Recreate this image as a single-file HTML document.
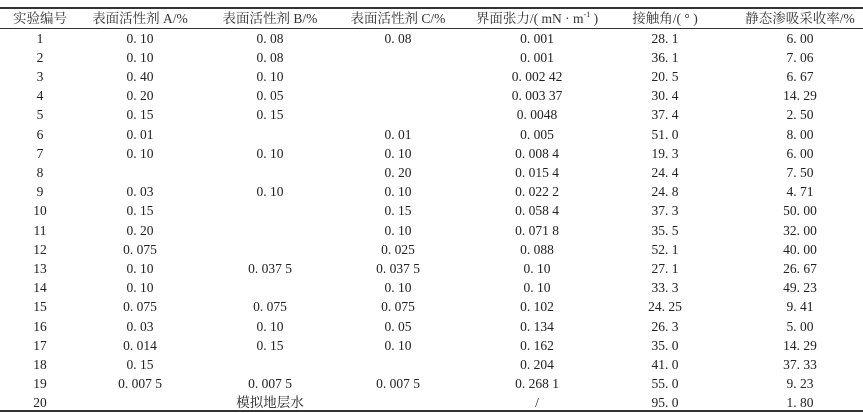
<!DOCTYPE html>
<html><head><meta charset="utf-8"><style>
body{margin:0;width:863px;height:413px;background:#fff;position:relative;overflow:hidden;font-family:"Liberation Serif","Noto Serif CJK SC",serif;color:#222;font-size:13.5px}
.l{position:absolute;left:0;width:863px;background:#333}
.r{position:absolute;left:0;width:863px;height:19px;line-height:19px}
.r span{position:absolute;transform:translateX(-50%);white-space:nowrap}
sup{font-size:8px;line-height:0;vertical-align:6px}
.h span{color:#333}
</style></head><body>
<div class="l" style="top:7px;height:1.5px"></div>
<div class="l" style="top:28px;height:1px"></div>
<div class="l" style="top:410px;height:2px"></div>
<div id="t"></div>
<script>
const cx=[40,140,270,398,537,665,800];
const rows=[
["实验编号","表面活性剂 A/%","表面活性剂 B/%","表面活性剂 C/%","界面张力/( mN · m<sup>-1</sup> )","接触角/( ° )","静态渗吸采收率/%"],
["1","0. 10","0. 08","0. 08","0. 001","28. 1","6. 00"],
["2","0. 10","0. 08","","0. 001","36. 1","7. 06"],
["3","0. 40","0. 10","","0. 002 42","20. 5","6. 67"],
["4","0. 20","0. 05","","0. 003 37","30. 4","14. 29"],
["5","0. 15","0. 15","","0. 0048","37. 4","2. 50"],
["6","0. 01","","0. 01","0. 005","51. 0","8. 00"],
["7","0. 10","0. 10","0. 10","0. 008 4","19. 3","6. 00"],
["8","","","0. 20","0. 015 4","24. 4","7. 50"],
["9","0. 03","0. 10","0. 10","0. 022 2","24. 8","4. 71"],
["10","0. 15","","0. 15","0. 058 4","37. 3","50. 00"],
["11","0. 20","","0. 10","0. 071 8","35. 5","32. 00"],
["12","0. 075","","0. 025","0. 088","52. 1","40. 00"],
["13","0. 10","0. 037 5","0. 037 5","0. 10","27. 1","26. 67"],
["14","0. 10","","0. 10","0. 10","33. 3","49. 23"],
["15","0. 075","0. 075","0. 075","0. 102","24. 25","9. 41"],
["16","0. 03","0. 10","0. 05","0. 134","26. 3","5. 00"],
["17","0. 014","0. 15","0. 10","0. 162","35. 0","14. 29"],
["18","0. 15","","","0. 204","41. 0","37. 33"],
["19","0. 007 5","0. 007 5","0. 007 5","0. 268 1","55. 0","9. 23"],
["20","","模拟地层水","","/","95. 0","1. 80"]];
let h="";
rows.forEach((r,i)=>{const y=i==0?8.5:28.5+(i-1)*19.2;
h+=`<div class="r${i==0?' h':''}" style="top:${y}px">`+r.map((c,j)=>`<span style="left:${cx[j]}px">${c}</span>`).join("")+"</div>";});
document.getElementById("t").innerHTML=h;
</script>
</body></html>
